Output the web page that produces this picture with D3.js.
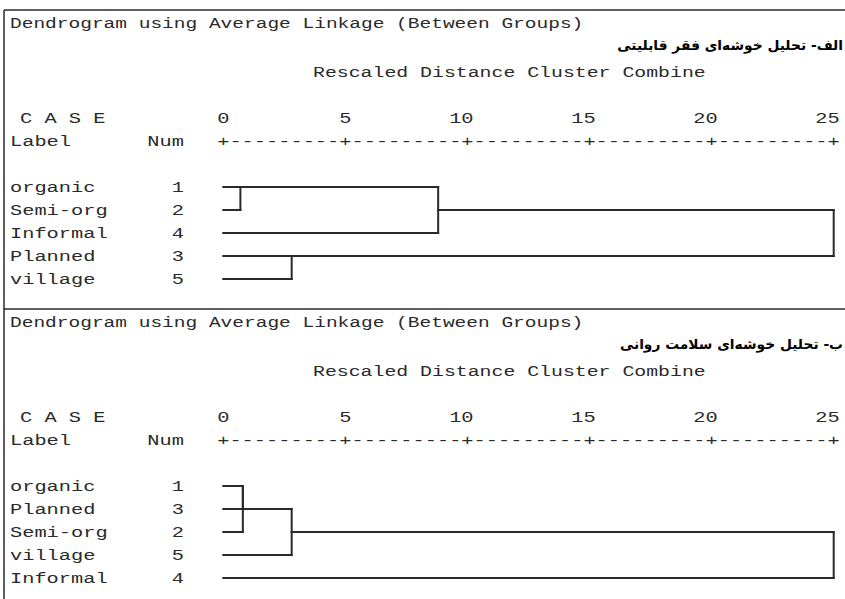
<!DOCTYPE html>
<html><head><meta charset="utf-8">
<script src="https://cdn.jsdelivr.net/npm/d3@7"></script>
<style>html,body{margin:0;padding:0;background:#fff}</style></head>
<body><svg id="c" width="845" height="599"></svg>
<script>
// ---- data ----
const titleText = "Dendrogram using Average Linkage (Between Groups)";
const subtitleText = "Rescaled Distance Cluster Combine";
const caseHeader = "C A S E";
const labelHeader = "Label";
const numHeader = "Num";
const persianTitles = ["الف- تحلیل خوشه‌ای فقر قابلیتی", "ب- تحلیل خوشه‌ای سلامت روانی"];
const tickValues = [0, 5, 10, 15, 20, 25];
const labels1 = ["organic", "Semi-org", "Informal", "Planned", "village"];
const nums1 = [1, 2, 4, 3, 5];
// [clusterA, clusterB, rescaled distance]; clusters 0..4 are leaves, 5+ are earlier merges
const merges1 = [[0, 1, 0.7], [5, 2, 8.8], [3, 4, 2.8], [6, 7, 25]];
const labels2 = ["organic", "Planned", "Semi-org", "village", "Informal"];
const nums2 = [1, 3, 2, 5, 4];
const merges2 = [[0, 1, 0.8], [5, 2, 0.8], [6, 3, 2.8], [7, 4, 25]];

// ---- layout ----
const W = 845, H = 599;
const svg = d3.select("#c");
svg.append("rect").attr("width", W).attr("height", H).attr("fill", "#fff");
const FONT = "'Liberation Mono', 'DejaVu Sans Mono', monospace";
const INK = "#2a2a2a";
const x = d3.scaleLinear().domain([0, 25]).range([223.3, 833.7]);
const PITCH = (x(25) - x(0)) / 50;

function mono(g, str, x0, yBase, pitch) {
  return g.append("text")
    .attr("x", x0).attr("y", yBase)
    .attr("font-family", FONT).attr("font-size", 14.5)
    .attr("fill", INK)
    .attr("textLength", str.length * pitch)
    .attr("lengthAdjust", "spacingAndGlyphs")
    .text(str);
}

const leftX = 4;
svg.append("line").attr("x1", leftX).attr("x2", leftX).attr("y1", 10).attr("y2", H)
  .attr("stroke", INK).attr("stroke-width", 1.5);

const panels = [
  {labels: labels1, nums: nums1, merges: merges1, persian: persianTitles[0], top: 10},
  {labels: labels2, nums: nums2, merges: merges2, persian: persianTitles[1], top: 309}
];

panels.forEach(p => {
  const g = svg.append("g").attr("transform", `translate(0,${p.top})`);
  g.append("line").attr("x1", leftX).attr("x2", W).attr("y1", 0).attr("y2", 0)
    .attr("stroke", INK).attr("stroke-width", 1.5);
  mono(g, titleText, 10, 18, 11.7);
  g.append("text").attr("x", 843).attr("y", 40)
    .attr("text-anchor", "end")
    .attr("font-family", "'DejaVu Sans', 'Noto Sans', sans-serif")
    .attr("font-size", 13.8).attr("font-weight", "bold").attr("fill", "#000")
    .text(p.persian);
  mono(g, subtitleText, 313, 67, 11.9);

  const rowY = i => 177 + i * 23;   // centre of text rows
  const caseY = rowY(-3), labY = rowY(-2);
  mono(g, caseHeader, 20, caseY + 5, PITCH);
  tickValues.forEach(v => {
    const s = String(v);
    mono(g, s, x(v) + PITCH / 2 - s.length * PITCH, caseY + 5, PITCH);
  });
  mono(g, labelHeader, 10, labY + 5, PITCH);
  mono(g, numHeader, 184 - 3 * PITCH, labY + 5, PITCH);
  // character ruler "+---------+..." built from the scale
  const rulerVals = d3.range(0, 25.001, 0.5);
  const ruler = rulerVals.map(d => d % 5 === 0 ? "+" : "-").join("");
  mono(g, ruler, x(0) - PITCH / 2, labY + 5, PITCH);

  p.labels.forEach((lab, i) => {
    mono(g, lab, 10, rowY(i) + 5, PITCH);
    const n = String(p.nums[i]);
    mono(g, n, 184 - n.length * PITCH, rowY(i) + 5, PITCH);
  });

  const clusters = p.labels.map((l, i) => ({row: i, d: 0}));
  const segs = [];
  p.merges.forEach(([a, b, d]) => {
    const A = clusters[a], B = clusters[b];
    segs.push([x(A.d), rowY(A.row), x(d), rowY(A.row)]);
    segs.push([x(B.d), rowY(B.row), x(d), rowY(B.row)]);
    segs.push([x(d), rowY(A.row), x(d), rowY(B.row)]);
    clusters.push({row: Math.floor((A.row + B.row) / 2), d: d});
  });
  g.selectAll("line.seg").data(segs).join("line").attr("class", "seg")
    .attr("x1", s => s[0]).attr("y1", s => s[1]).attr("x2", s => s[2]).attr("y2", s => s[3])
    .attr("stroke", INK).attr("stroke-width", 2).attr("stroke-linecap", "square");
});
</script></body></html>
